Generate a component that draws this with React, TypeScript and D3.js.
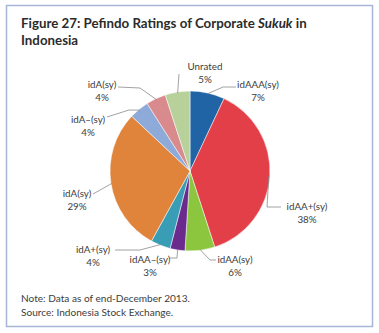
import React from "react";
import * as d3 from "d3";

const categories = ["idAAA(sy)", "idAA+(sy)", "idAA(sy)", "idAA–(sy)", "idA+(sy)", "idA(sy)", "idA–(sy)", "idA(sy)", "Unrated"];
const values = [7, 38, 6, 3, 4, 29, 4, 4, 5];
const colors = ["#2064a6", "#e33f48", "#8cc63e", "#6a2a8e", "#3a9db6", "#e0843c", "#8eaad9", "#d98a8d", "#b8d19b"];

// label layout: text anchor (center x, first baseline y) and leader polyline elbow points (after arc point)
const labelLayout = [
  { x: 258, y: 88, pts: [[223, 87], [236, 87]] },
  { x: 307, y: 210, pts: [[267, 207], [281, 207]] },
  { x: 235, y: 263, pts: [[210, 260], [216, 260]] },
  { x: 150, y: 263, pts: [[177, 258], [170, 258]] },
  { x: 93, y: 253, pts: [[140, 250], [115, 250]] },
  { x: 77, y: 197, pts: [[93, 194]] },
  { x: 88, y: 123, pts: [[129, 110], [107, 117]] },
  { x: 102, y: 88, pts: [[140, 88], [118, 87]] },
  { x: 205, y: 70, pts: [[179, 74]] },
];

export default function App() {
  const W = 379, H = 333;
  const cx = 190, cy = 171, r = 80;
  const pie = d3.pie<number>().sort(null).value((d) => d);
  const arcs = pie(values);
  const arc = d3.arc<d3.PieArcDatum<number>>().innerRadius(0).outerRadius(r);
  const edge = d3.arc<d3.PieArcDatum<number>>().innerRadius(r - 1).outerRadius(r - 1);
  const font = "Lato, 'Open Sans', sans-serif";
  return (
    <svg width={W} height={H} style={{ position: "absolute", left: 0, top: 0 }}>
      <rect x={0} y={0} width={W} height={H} fill="#ffffff" />
      <rect x={6.5} y={5.5} width={366} height={321} fill="#ffffff" stroke="#a7b5d6" strokeWidth={1.5} />
      <text x={21} y={28} fontFamily={font} fontWeight={700} fontSize={13.3} fill="#2b2b2b">
        <tspan>Figure 27: Pefindo Ratings of Corporate </tspan>
        <tspan fontStyle="italic">Sukuk</tspan>
        <tspan> in</tspan>
      </text>
      <text x={21} y={45} fontFamily={font} fontWeight={700} fontSize={13.3} fill="#2b2b2b">Indonesia</text>
      <g transform={`translate(${cx},${cy})`}>
        {arcs.map((a, i) => (
          <path key={i} d={arc(a) || ""} fill={colors[i]} stroke="#ffffff" strokeWidth={0.5} />
        ))}
      </g>
      {arcs.map((a, i) => {
        const [ex, ey] = edge.centroid(a);
        const L = labelLayout[i];
        const pts = [[cx + ex, cy + ey], ...L.pts];
        const line = d3.line()(pts as [number, number][]) || "";
        return (
          <g key={i}>
            <path d={line} fill="none" stroke="#8a8a8a" strokeWidth={0.8} />
            <text x={L.x} y={L.y} textAnchor="middle" fontFamily={font} fontSize={9.8} fill="#3c3c3c">
              {categories[i]}
            </text>
            <text x={L.x} y={L.y + 13} textAnchor="middle" fontFamily={font} fontSize={9.8} fill="#3c3c3c">
              {values[i] + "%"}
            </text>
          </g>
        );
      })}
      <text x={21} y={302} fontFamily={font} fontSize={10.1} fill="#3c3c3c">Note: Data as of end-December 2013.</text>
      <text x={21} y={316} fontFamily={font} fontSize={10.1} fill="#3c3c3c">Source: Indonesia Stock Exchange.</text>
    </svg>
  );
}
